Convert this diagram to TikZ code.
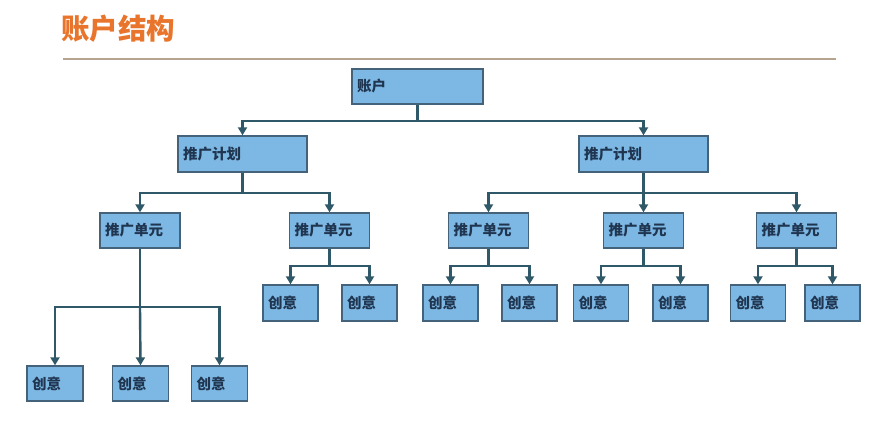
\documentclass[tikz,border=0pt]{standalone}
\usepackage{fontspec}
\newfontfamily\cjk{Noto Sans CJK SC}
\usetikzlibrary{arrows.meta}
\definecolor{boxfill}{HTML}{7DB7E3}
\definecolor{boxline}{HTML}{44627A}
\definecolor{conn}{HTML}{2F5868}
\definecolor{titlec}{HTML}{E8752B}
\definecolor{rulec}{HTML}{B5A58F}
\definecolor{txtc}{HTML}{1F3550}
\tikzset{
  box/.style={draw=boxline, line width=1.4pt, fill=boxfill, text width=#1, align=left,
    inner xsep=5pt, inner ysep=0pt, minimum height=35pt, font=\cjk\bfseries\fontsize{14.5}{16}\selectfont, text=txtc},
  conn/.style={draw=conn, line width=2.4pt},
  arr/.style={conn, -{Triangle[length=8pt,width=9pt]}},
}
\begin{document}
\begin{tikzpicture}[x=1pt,y=-1pt]
\useasboundingbox (0,0) rectangle (880,432);
\node[anchor=west, text=titlec, font=\cjk\bfseries\fontsize{28.5}{30}\selectfont, inner sep=0pt] (title) at (61,29) {账户结构};
\coordinate (rl) at (63,59);
\coordinate (rr) at (836,59);
\draw[rulec, line width=2pt] (rl) -- (rr);

% level 0
\node[box=121pt] (root) at (417.5,86.5) {账户};
% level 1
\node[box=119pt, minimum height=36pt] (p1) at (242.5,154) {推广计划};
\node[box=119pt, minimum height=36pt] (p2) at (643.5,154) {推广计划};
% level 2
\node[box=70pt] (u1) at (140,230.5) {推广单元};
\node[box=70pt] (u2) at (329.5,230.5) {推广单元};
\node[box=70pt] (u3) at (488.5,230.5) {推广单元};
\node[box=70pt] (u4) at (643.5,230.5) {推广单元};
\node[box=70pt] (u5) at (796.5,230.5) {推广单元};
% level 3 row 1
\node[box=45pt, minimum height=36pt] (c21) at (290.5,303) {创意};
\node[box=45pt, minimum height=36pt] (c22) at (369.5,303) {创意};
\node[box=45pt, minimum height=36pt] (c31) at (450.5,303) {创意};
\node[box=45pt, minimum height=36pt] (c32) at (529.5,303) {创意};
\node[box=45pt, minimum height=36pt] (c41) at (601,303) {创意};
\node[box=45pt, minimum height=36pt] (c42) at (680.5,303) {创意};
\node[box=45pt, minimum height=36pt] (c51) at (758,303) {创意};
\node[box=45pt, minimum height=36pt] (c52) at (832.5,303) {创意};
% level 3 row 2
\node[box=46pt] (c11) at (55,383.5) {创意};
\node[box=46pt] (c12) at (140.5,383.5) {创意};
\node[box=46pt] (c13) at (219.5,383.5) {创意};

% forks
\coordinate (f0) at (417.5,121);
\coordinate (f1) at (242.5,193);
\coordinate (f2) at (643.5,193);
\coordinate (g1) at (140,307);
\coordinate (g2) at (329.5,266);
\coordinate (g3) at (488.5,266);
\coordinate (g4) at (643.5,266);
\coordinate (g5) at (796.5,266);

\draw[conn] (root.south) -- (f0);
\draw[arr] (f0) -| (p1.north);
\draw[arr] (f0) -| (p2.north);

\draw[conn] (p1.south) -- (f1);
\draw[arr] (f1) -| (u1.north);
\draw[arr] (f1) -| (u2.north);
\draw[conn] (p2.south) -- (f2);
\draw[arr] (f2) -| (u3.north);
\draw[arr] (f2) -- (u4.north);
\draw[arr] (f2) -| (u5.north);

\draw[conn] (u1.south) -- (g1);
\draw[arr] (g1) -| (c11.north);
\draw[arr] (g1) -- (c12.north);
\draw[arr] (g1) -| (c13.north);

\draw[conn] (u2.south) -- (g2);
\draw[arr] (g2) -| (c21.north);
\draw[arr] (g2) -| (c22.north);
\draw[conn] (u3.south) -- (g3);
\draw[arr] (g3) -| (c31.north);
\draw[arr] (g3) -| (c32.north);
\draw[conn] (u4.south) -- (g4);
\draw[arr] (g4) -| (c41.north);
\draw[arr] (g4) -| (c42.north);
\draw[conn] (u5.south) -- (g5);
\draw[arr] (g5) -| (c51.north);
\draw[arr] (g5) -| (c52.north);
\end{tikzpicture}
\end{document}
